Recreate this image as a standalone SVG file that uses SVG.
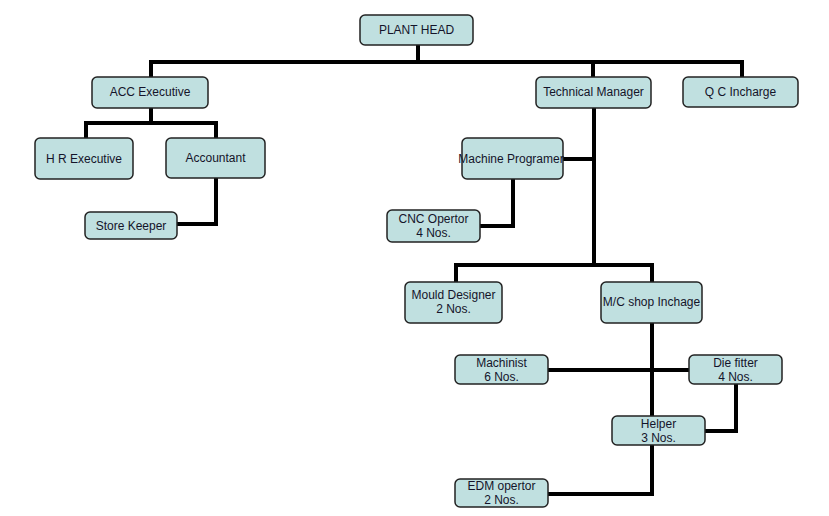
<svg xmlns="http://www.w3.org/2000/svg" width="829" height="516" viewBox="0 0 829 516">
<style>
.box{fill:#c0e0e0;stroke:#222;stroke-width:1.5}
.t{font-family:"Liberation Sans",Arial,sans-serif;font-size:12px;fill:#14142a;text-anchor:middle}
.c{fill:none;stroke:#000;stroke-width:4;stroke-linejoin:miter;stroke-linecap:square}
</style>
<rect width="829" height="516" fill="#fff"/>
<g id="connectors">
<path class="c" d="M418 45V62M151 62H742M151 62V77M593 62V77M742 62V77"/>
<path class="c" d="M151 108V123M86 123H216M86 123V138M216 123V138"/>
<path class="c" d="M216 178V224H177"/>
<path class="c" d="M594 108V265M563 159H594M456 265H652M456 265V282M652 265V282"/>
<path class="c" d="M513 179V226H480"/>
<path class="c" d="M652 323V416M548 370H689M736 384V431H705M652 445V494H548"/>
</g>
<g id="plant-head"><rect class="box" x="360" y="15" width="113" height="30" rx="5"/><text class="t" x="416.5" y="34">PLANT HEAD</text></g>
<g id="acc-executive"><rect class="box" x="92" y="77" width="116" height="31" rx="5"/><text class="t" x="150" y="96">ACC Executive</text></g>
<g id="technical-manager"><rect class="box" x="536" y="77" width="115" height="31" rx="5"/><text class="t" x="593.5" y="96">Technical Manager</text></g>
<g id="qc-incharge"><rect class="box" x="683" y="77" width="115" height="30" rx="5"/><text class="t" x="740.5" y="96">Q C Incharge</text></g>
<g id="hr-executive"><rect class="box" x="35" y="138" width="98" height="41" rx="5"/><text class="t" x="84" y="163">H R Executive</text></g>
<g id="accountant"><rect class="box" x="166" y="138" width="99" height="40" rx="5"/><text class="t" x="215.5" y="162">Accountant</text></g>
<g id="store-keeper"><rect class="box" x="85" y="212" width="92" height="27" rx="5"/><text class="t" x="131" y="230">Store Keeper</text></g>
<g id="machine-programer"><rect class="box" x="462" y="138" width="101" height="41" rx="5"/><text class="t" x="511" y="163">Machine Programer</text></g>
<g id="cnc-opertor"><rect class="box" x="387" y="210" width="93" height="32" rx="5"/><text class="t" x="433.5" y="223">CNC Opertor</text><text class="t" x="433.5" y="237">4 Nos.</text></g>
<g id="mould-designer"><rect class="box" x="405" y="282" width="97" height="41" rx="5"/><text class="t" x="453.5" y="299">Mould Designer</text><text class="t" x="453.5" y="313">2 Nos.</text></g>
<g id="mc-shop"><rect class="box" x="601" y="282" width="101" height="41" rx="5"/><text class="t" x="651.5" y="306">M/C shop Inchage</text></g>
<g id="machinist"><rect class="box" x="455" y="355" width="93" height="29" rx="5"/><text class="t" x="501.5" y="367">Machinist</text><text class="t" x="501.5" y="381">6 Nos.</text></g>
<g id="die-fitter"><rect class="box" x="689" y="355" width="93" height="29" rx="5"/><text class="t" x="735.5" y="367">Die fitter</text><text class="t" x="735.5" y="381">4 Nos.</text></g>
<g id="helper"><rect class="box" x="612" y="416" width="93" height="29" rx="5"/><text class="t" x="658.5" y="428">Helper</text><text class="t" x="658.5" y="442">3 Nos.</text></g>
<g id="edm-opertor"><rect class="box" x="455" y="479" width="93" height="28" rx="5"/><text class="t" x="501.5" y="490">EDM opertor</text><text class="t" x="501.5" y="504">2 Nos.</text></g>
</svg>
